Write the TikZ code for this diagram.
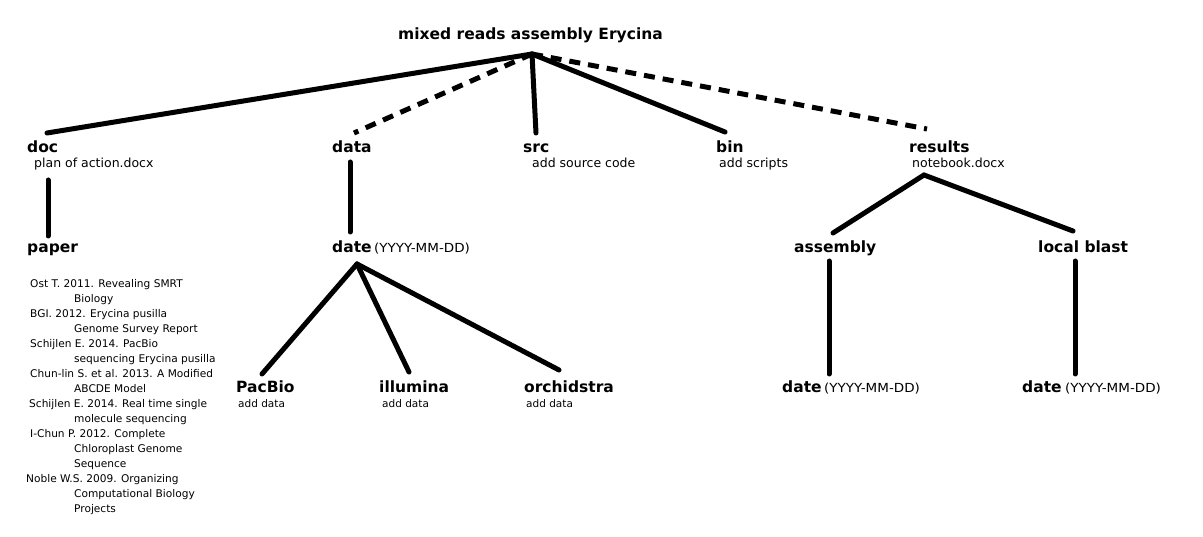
\documentclass[tikz,border=0pt]{standalone}
\usepackage{fontspec}
\setmainfont{DejaVu Sans}
\newfontfamily\widefont[FakeStretch=1.08]{DejaVu Sans}
\begin{document}
\begin{tikzpicture}[x=1pt,y=-1pt,
  lbl/.style={anchor=base west, inner sep=0pt, font=\fontsize{15.5}{18}\selectfont\bfseries},
  sublbl/.style={anchor=base west, inner sep=0pt, font=\fontsize{12.5}{15}\selectfont},
  smalltxt/.style={anchor=base west, inner sep=0pt, font=\fontsize{10.5}{15}\selectfont},
  datetxt/.style={anchor=base west, inner sep=0pt, font=\widefont\fontsize{12.5}{15}\selectfont},
  edge/.style={line width=5pt, line cap=round},
  dashedge/.style={line width=5pt, dash pattern=on 11pt off 8pt}]
\useasboundingbox[fill=white] (0,0) rectangle (1203,537);

% texts
\node[lbl] (root) at (398,40) {mixed reads assembly Erycina};
\node[lbl] (doc) at (27,153) {doc};
\node[sublbl] (docsub) at (34,168) {plan of action.docx};
\node[lbl] (data) at (332,153) {data};
\node[lbl] (src) at (523,153) {src};
\node[sublbl] (srcsub) at (532,168) {add source code};
\node[lbl] (bin) at (716,153) {bin};
\node[sublbl] (binsub) at (719,168) {add scripts};
\node[lbl] (results) at (909,153) {results};
\node[sublbl] (ressub) at (912,168) {notebook.docx};

\node[lbl] (paper) at (27,253) {paper};
\node[lbl] (date1) at (332,253) {date};
\node[datetxt] (date1f) at (374,253) {(YYYY-MM-DD)};
\node[lbl] (assembly) at (794,253) {assembly};
\node[lbl] (blast) at (1038,253) {local blast};

\node[lbl] (pacbio) at (236,393) {PacBio};
\node[smalltxt] (pacsub) at (238,407) {add data};
\node[lbl] (illumina) at (379,393) {illumina};
\node[smalltxt] (illsub) at (382,407) {add data};
\node[lbl] (orchid) at (524,393) {orchidstra};
\node[smalltxt] (orcsub) at (526,407) {add data};

\node[lbl] (date2) at (782,393) {date};
\node[datetxt] (date2f) at (824,393) {(YYYY-MM-DD)};
\node[lbl] (date3) at (1022,393) {date};
\node[datetxt] (date3f) at (1065,393) {(YYYY-MM-DD)};

\node[smalltxt, font=\fontsize{10.6}{15}\selectfont] (refs) at (30,288) {\begin{tabular}[t]{@{}l@{}}
Ost T. 2011. Revealing SMRT\\
\hspace*{44pt}Biology\\
BGI. 2012. Erycina pusilla\\
\hspace*{44pt}Genome Survey Report\\
Schijlen E. 2014. PacBio\\
\hspace*{44pt}sequencing Erycina pusilla\\
Chun-lin S. et al. 2013. A Modified\\
\hspace*{44pt}ABCDE Model\\
\hspace*{-1pt}Schijlen E. 2014. Real time single\\
\hspace*{44pt}molecule sequencing\\
I-Chun P. 2012. Complete\\
\hspace*{44pt}Chloroplast Genome\\
\hspace*{44pt}Sequence\\
\hspace*{-4pt}Noble W.S. 2009. Organizing\\
\hspace*{44pt}Computational Biology\\
\hspace*{44pt}Projects
\end{tabular}};

% connector end points
\coordinate (apex) at (532,54);
\coordinate (docT) at (47,133);
\coordinate (dataT) at (354,133);
\coordinate (srcT) at (536,133);
\coordinate (binT) at (725,132);
\coordinate (resT) at (927,129);
\coordinate (docB) at (48,180);
\coordinate (paperT) at (48,236);
\coordinate (dataB) at (350,162);
\coordinate (dateT) at (350,232);
\coordinate (dateA) at (357,264);
\coordinate (pacT) at (262,374);
\coordinate (illT) at (409,372);
\coordinate (orcT) at (559,370);
\coordinate (resA) at (924,175);
\coordinate (asmT) at (833,233);
\coordinate (blT) at (1073,231);
\coordinate (asmB) at (829,261);
\coordinate (date2T) at (829,374);
\coordinate (blB) at (1075,261);
\coordinate (date3T) at (1075,374);

% connectors
\draw[edge] (apex) -- (docT);
\draw[dashedge] (apex) -- (dataT);
\draw[edge] (apex) -- (srcT);
\draw[edge] (apex) -- (binT);
\draw[dashedge] (apex) -- (resT);
\draw[edge] (docB) -- (paperT);
\draw[edge] (dataB) -- (dateT);
\draw[edge] (dateA) -- (pacT);
\draw[edge] (dateA) -- (illT);
\draw[edge] (dateA) -- (orcT);
\draw[edge] (resA) -- (asmT);
\draw[edge] (resA) -- (blT);
\draw[edge] (asmB) -- (date2T);
\draw[edge] (blB) -- (date3T);
\end{tikzpicture}
\end{document}
